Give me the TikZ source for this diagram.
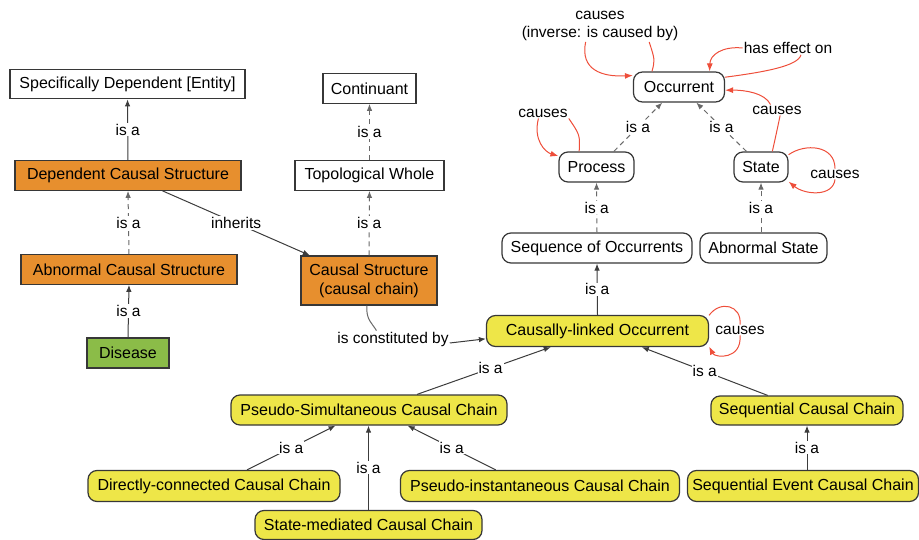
\documentclass[tikz,border=0pt]{standalone}
\usepackage{fontspec}
\setmainfont{Liberation Sans}
\usetikzlibrary{arrows.meta,calc}
\definecolor{orangeC}{RGB}{231,143,46}
\definecolor{greenC}{RGB}{139,188,72}
\definecolor{yellowC}{RGB}{238,230,72}
\definecolor{redC}{RGB}{238,78,58}
\definecolor{borderC}{RGB}{55,55,55}
\definecolor{lineC}{RGB}{60,60,60}
\definecolor{dashC}{RGB}{105,105,105}
\begin{document}
\begin{tikzpicture}[x=1pt,y=-1pt,
  every node/.style={font=\fontsize{16}{19}\selectfont},
  base/.style={draw=borderC, line width=1.2pt, minimum height=29.5pt, inner sep=0pt},
  sq/.style={base, fill=white},
  orng/.style={base, fill=orangeC},
  grn/.style={base, fill=greenC},
  rnd/.style={base, rounded corners=9pt, fill=white},
  ylw/.style={base, rounded corners=9pt, fill=yellowC},
  lbl/.style={fill=white, inner sep=1pt, font=\fontsize{15.5}{18}\selectfont},
  rlbl/.style={inner sep=1pt, font=\fontsize{15.5}{18}\selectfont},
  isa/.style={draw=lineC, line width=1pt, -{Latex[length=7pt,width=5.5pt]}},
  isad/.style={isa, draw=dashC, dash pattern=on 5pt off 4pt},
  plain/.style={draw=dashC, line width=1pt},
  rarr/.style={draw=redC, line width=1pt, -{Latex[length=8pt,width=6pt]}},
  rline/.style={draw=redC, line width=1pt},
]
\useasboundingbox (0,0) rectangle (919,540);

% left column
\node[sq, minimum width=235pt] (sde) at (127.5,84) {Specifically Dependent [Entity]};
\node[orng, minimum width=226pt] (dcs) at (128,175.5) {Dependent Causal Structure};
\node[orng, minimum width=216pt] (acs) at (129,269.5) {Abnormal Causal Structure};
\node[grn, minimum width=82pt, minimum height=30pt] (dis) at (128,353) {Disease};

% middle column
\node[sq, minimum width=93pt] (cont) at (369.5,88.5) {Continuant};
\node[sq, minimum width=149pt] (tw) at (369.5,175.5) {Topological Whole};
\node[orng, minimum width=136pt, minimum height=49pt, align=center] (cs) at (369,280.5) {Causal Structure\\(causal chain)};

% right upper
\node[rnd, minimum width=91pt, minimum height=30pt] (occ) at (679,87) {Occurrent};
\node[rnd, minimum width=75pt, minimum height=30pt] (proc) at (596.5,167) {Process};
\node[rnd, minimum width=54pt, minimum height=30pt] (st) at (761,167) {State};
\node[rnd, minimum width=190pt, minimum height=30pt] (seq) at (597,248) {Sequence of Occurrents};
\node[rnd, minimum width=127pt, minimum height=30pt] (abs) at (763.5,248) {Abnormal State};

% yellow nodes
\node[ylw, minimum width=222pt, minimum height=31pt] (clo) at (597.5,331) {Causally-linked Occurrent};
\node[ylw, minimum width=276pt, minimum height=30pt] (pscc) at (369,410) {Pseudo-Simultaneous Causal Chain};
\node[ylw, minimum width=192pt, minimum height=29pt] (scc) at (807,410.5) {Sequential Causal Chain};
\node[ylw, minimum width=252pt, minimum height=31pt] (dcc) at (214,486) {Directly-connected Causal Chain};
\node[ylw, minimum width=227pt, minimum height=29pt] (smcc) at (368.5,525) {State-mediated Causal Chain};
\node[ylw, minimum width=279pt, minimum height=31pt] (picc) at (540,486) {Pseudo-instantaneous Causal Chain};
\node[ylw, minimum width=231pt, minimum height=31pt] (secc) at (803,486) {Sequential Event Causal Chain};

% is-a edges (left/middle)
\draw[isa] (dcs.north) -- node[lbl] {is a} (sde.south);
\draw[isad] (acs.north) -- node[lbl] {is a} (dcs.south);
\draw[isa] (dis.north) -- node[lbl] {is a} (acs.south);
\draw[isad] (tw.north) -- node[lbl] {is a} (cont.south);
\draw[isad] (cs.north) -- node[lbl] {is a} (tw.south);
\draw[isa] (dcs.-24) -- node[lbl] {inherits} (cs.157);

% is-a edges (right upper)
\draw[isad] (proc.42) -- node[lbl] {is a} (occ.223);
\draw[isad] (st.133) -- node[lbl] {is a} (occ.-42);
\draw[isad] (seq.north) -- node[lbl] {is a} (proc.south);
\draw[isad] (abs.north -| st.south) -- node[lbl] {is a} (st.south);
\draw[isa] (clo.north) -- node[lbl] {is a} (seq.south);

% is-a edges (bottom)
\draw[isa] (pscc.18.8) -- node[lbl, pos=0.55] {is a} (clo.199);
\draw[isa] (scc.159.6) -- node[lbl] {is a} (clo.-20);
\draw[isa] (dcc.26.6) -- node[lbl] {is a} (pscc.205);
\draw[isa] (smcc.north) -- node[lbl] {is a} (smcc.north |- pscc.south);
\draw[isa] (picc.160) -- node[lbl] {is a} (pscc.-22.6);
\draw[isa] (secc.north -| scc.south) -- node[lbl] {is a} (scc.south);

% is constituted by
\node[rlbl] (lbl7) at (393,339) {is constituted by};
\draw[plain] (cs.-95) .. controls (366,320) and (372,323) .. (lbl7.153);
\draw[isa] ($(lbl7.east)+(0,4)$) -- (clo.-176);

% red relations
\node[rlbl, align=center] (lbl1) at (600,26) {causes\\(inverse: is caused by)};
\draw[rline] (occ.150) .. controls (655,60) .. (lbl1.-18);
\draw[rarr] (lbl1.-132) .. controls (580,70) and (602,77) .. (occ.166);

\node[rlbl] (hef) at (788,48) {has effect on};
\draw[rline] (occ.12) .. controls (765,72) and (798,66) .. (hef.-28);
\draw[rarr] (hef.west) .. controls (722,46) and (710,55) .. (occ.27);

\node[rlbl] (lbl3) at (777,110) {causes};
\draw[rline] (st.54) .. controls (776,135) .. (lbl3.-60);
\draw[rarr] (lbl3.140) .. controls (765,93) and (745,90) .. (occ.-4);

\node[rlbl] (lbl4) at (835,174) {causes};
\draw[rline] (st.24) .. controls (805,143) and (835,145) .. (lbl4.north);
\draw[rarr] (lbl4.south) .. controls (833,197) and (805,195) .. (st.-28);

\node[rlbl] (lbl5) at (543,113) {causes};
\draw[rline] (proc.138) .. controls (580,135) .. (lbl5.south east);
\draw[rarr] (lbl5.-130) .. controls (533,140) and (545,152) .. (proc.164);

\node[rlbl] (lbl6) at (740,330) {causes};
\draw[rline] (clo.8) .. controls (720,300) and (742,305) .. (lbl6.north);
\draw[rarr] (lbl6.south) .. controls (742,360) and (715,358) .. (clo.-8);
\end{tikzpicture}
\end{document}
